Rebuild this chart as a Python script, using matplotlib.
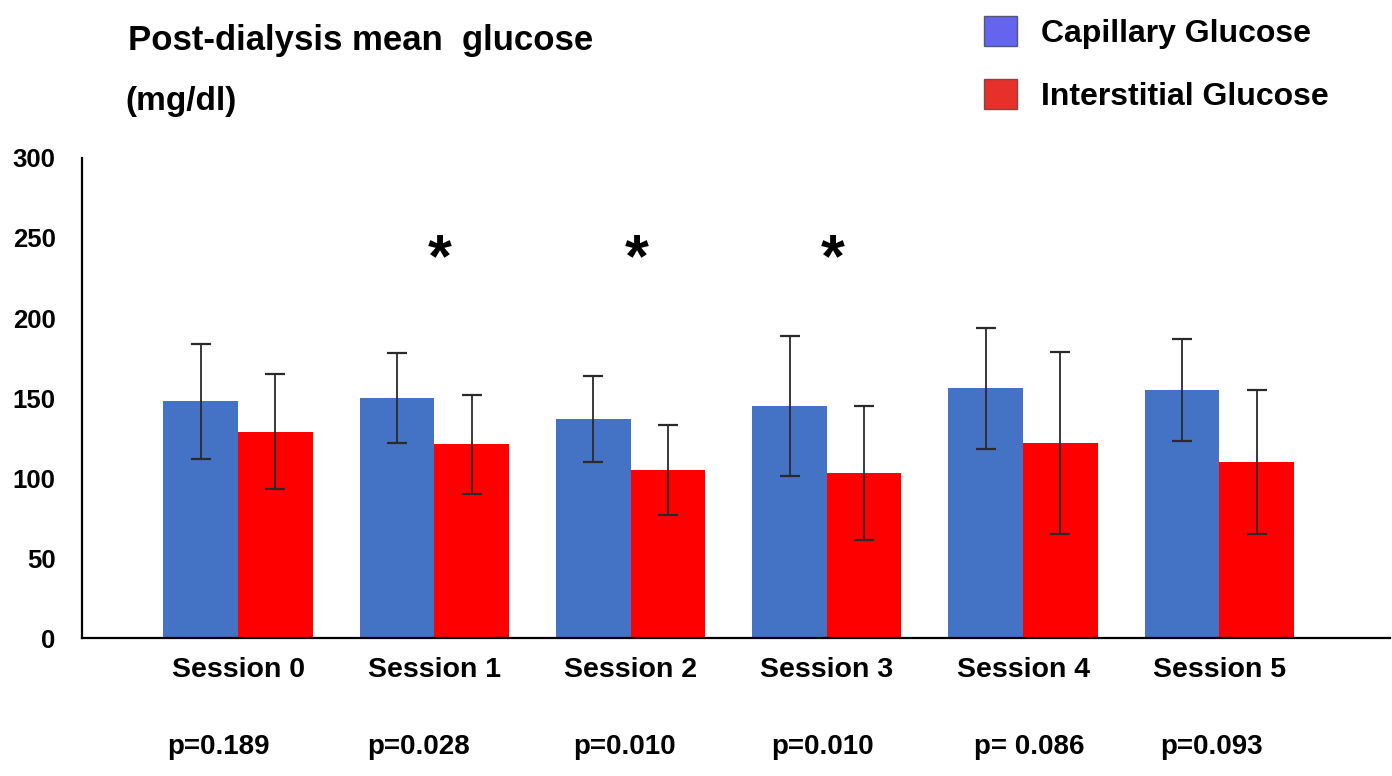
import numpy as np
import matplotlib
matplotlib.use("Agg")
import matplotlib.pyplot as plt
from matplotlib.patches import Patch
from matplotlib.transforms import blended_transform_factory

plt.rcParams['font.family'] = ['Liberation Sans', 'DejaVu Sans']
plt.rcParams['font.weight'] = 'bold'

sessions = ["Session 0", "Session 1", "Session 2", "Session 3", "Session 4", "Session 5"]
capillary = [148, 150, 137, 145, 156, 155]
capillary_err = [36, 28, 27, 44, 38, 32]
interstitial = [129, 121, 105, 103, 122, 110]
interstitial_err = [36, 31, 28, 42, 57, 45]
p_values = ["p=0.189", "p=0.028", "p=0.010", "p=0.010", "p= 0.086", "p=0.093"]
p_offsets = [-0.10, -0.08, -0.03, -0.02, 0.03, -0.04]
significant = [False, True, True, True, False, False]

fig = plt.figure(figsize=(13.92, 7.76), dpi=100)
ax = fig.add_axes([0.0589, 0.1778, 0.9397, 0.6186])

x = np.arange(len(sessions))
w = 0.38
err_kw = dict(ecolor='#2a2a2a', elinewidth=1.3, capsize=7, capthick=1.6)
ax.bar(x - w, capillary, w, align='edge', color='#4472C4', yerr=capillary_err,
       error_kw=err_kw)
ax.bar(x, interstitial, w, align='edge', color='#FF0000', yerr=interstitial_err,
       error_kw=err_kw)

ax.set_ylim(0, 300)
ax.set_xlim(-0.795, 5.87)
ax.set_yticks(range(0, 301, 50))
ax.set_xticks(x)
ax.set_xticklabels(sessions)
ax.tick_params(axis='y', length=0, pad=19, labelsize=18.5)
ax.tick_params(axis='x', length=0, pad=14, labelsize=20.5)
for s in ['top', 'right']:
    ax.spines[s].set_visible(False)
ax.spines['left'].set_linewidth(1.6)
ax.spines['bottom'].set_linewidth(1.6)

# significance stars
for i, sig in enumerate(significant):
    if sig:
        ax.text(i + 0.03, 236, "*", ha='center', va='center', fontsize=44,
                fontweight='bold')

# p-values under the session labels
trans = blended_transform_factory(ax.transData, fig.transFigure)
for i, p in enumerate(p_values):
    fig.text(i + p_offsets[i], 0.038, p, transform=trans, ha='center',
             va='center', fontsize=20, fontweight='bold')

fig.text(0.092, 0.948, "Post-dialysis mean  glucose", ha='left', va='center',
         fontsize=25, fontweight='bold')
fig.text(0.090, 0.869, "(mg/dl)", ha='left', va='center', fontsize=24,
         fontweight='bold')

handles = [Patch(facecolor='#6464EE', edgecolor='#555577'),
           Patch(facecolor='#E8302A', edgecolor='#884444')]
fig.legend(handles, ["Capillary Glucose", "Interstitial Glucose"],
           loc='upper left', bbox_to_anchor=(0.686, 1.016), frameon=False,
           fontsize=23, handlelength=1.05, handleheight=1.05,
           labelspacing=0.95, handletextpad=0.75)

fig.savefig("out.png", dpi=100)
